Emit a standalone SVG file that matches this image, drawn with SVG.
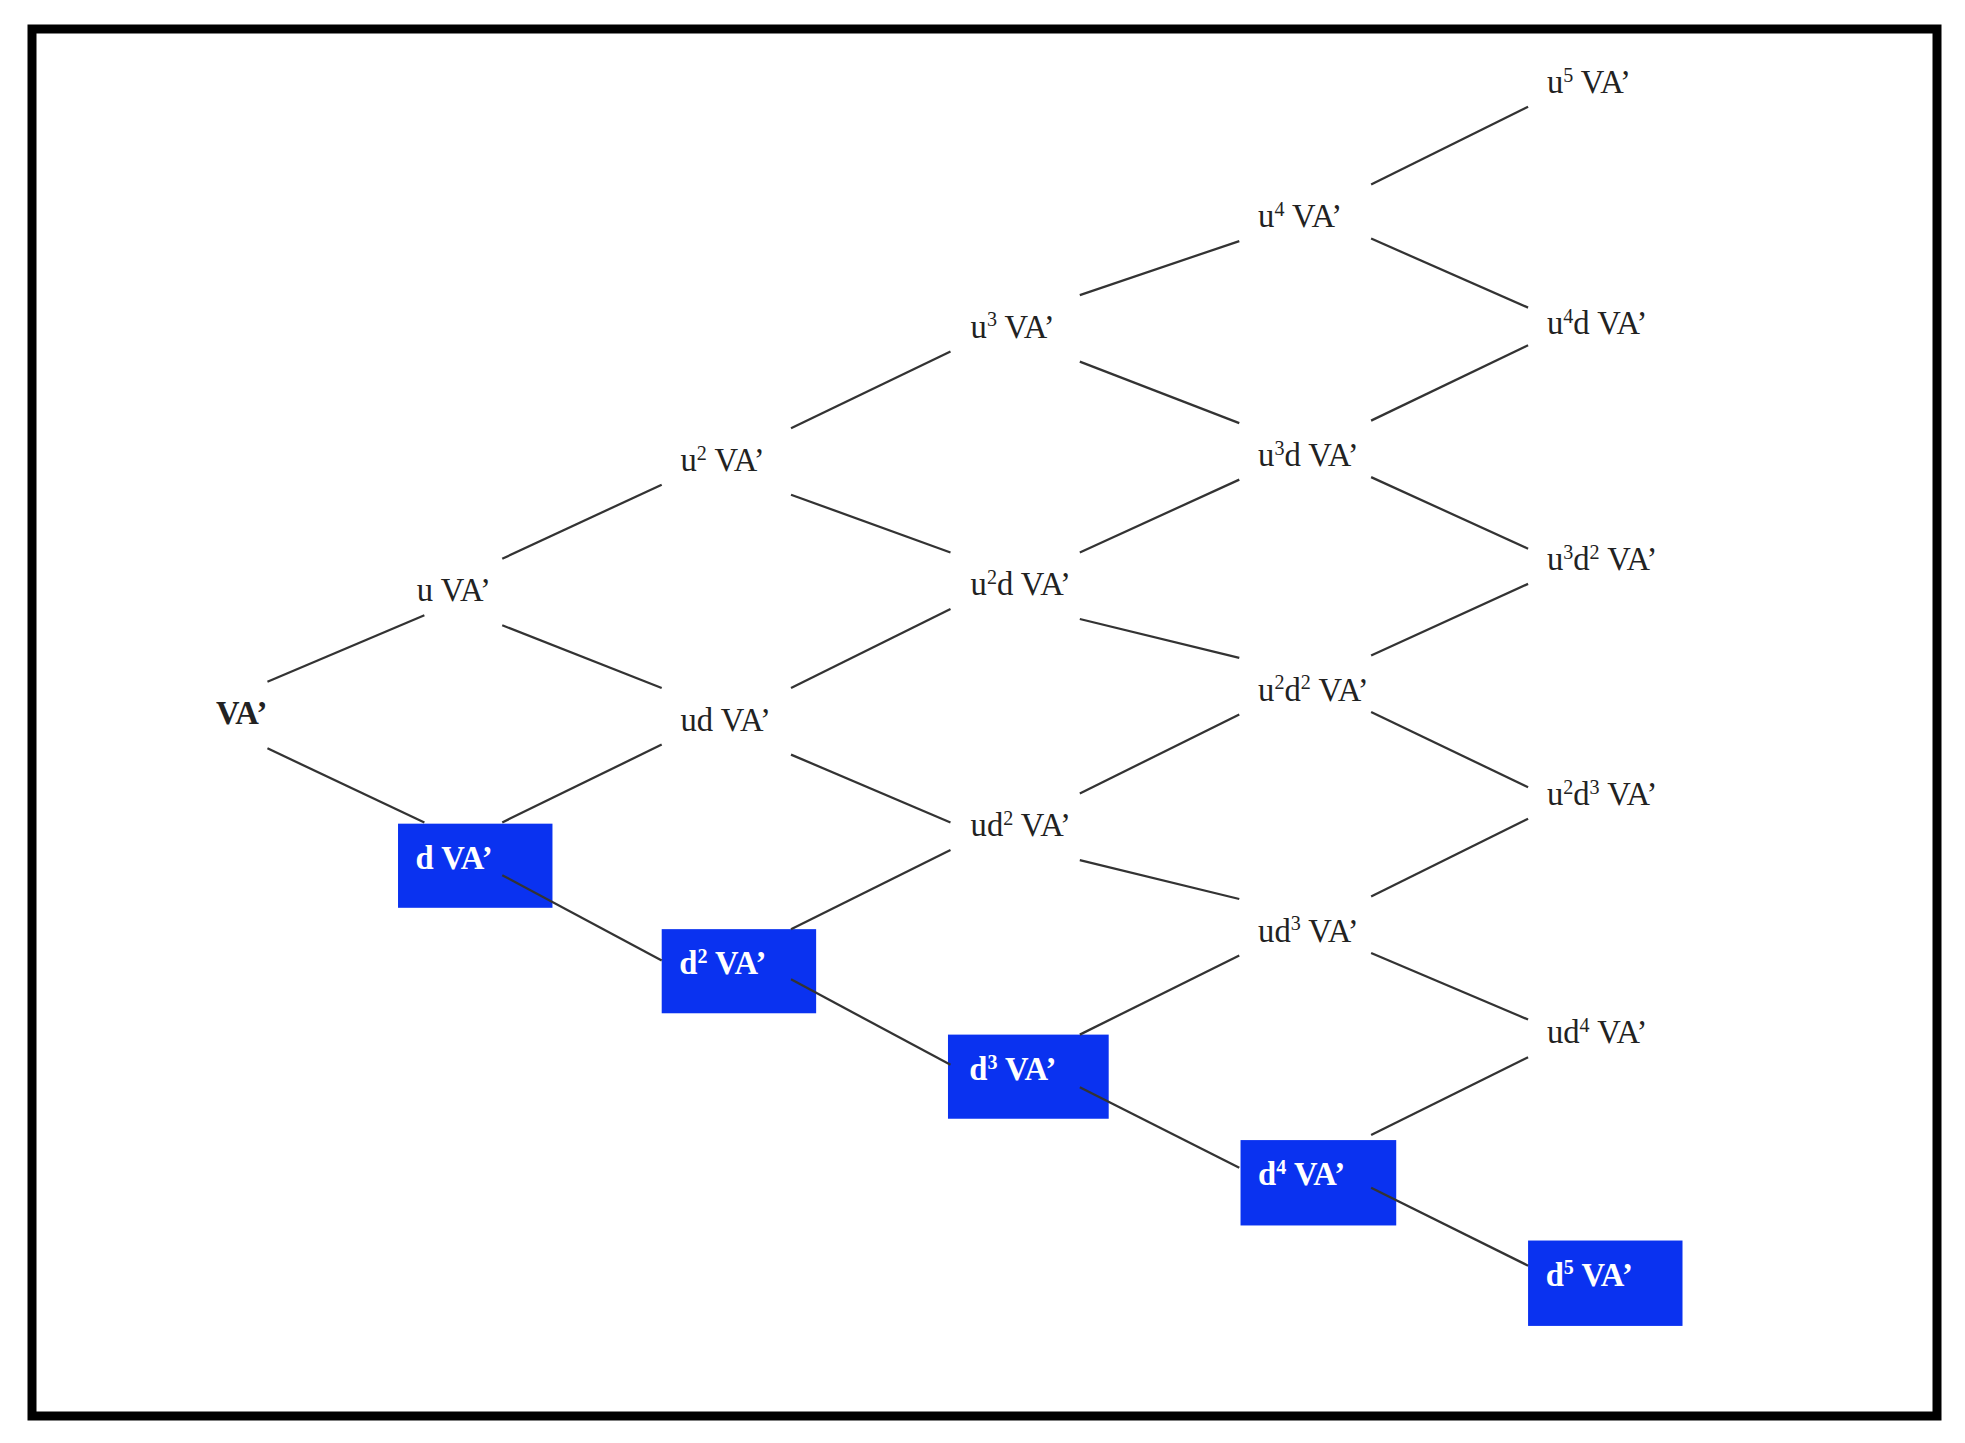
<svg xmlns="http://www.w3.org/2000/svg" width="1965" height="1443" viewBox="0 0 1965 1443">
<style>
text{font-family:"Liberation Serif","Times New Roman",serif;font-size:26px;fill:#222}
.b text{fill:#fff;font-weight:bold}
.box{fill:#0a32f0}
.s{font-size:16px}
#edges line{stroke:#333;stroke-width:1.8}
</style>
<rect x="0" y="0" width="1965" height="1443" fill="#fff"/>
<rect x="32" y="29" width="1905" height="1387" fill="none" stroke="#000" stroke-width="9"/>
<g transform="scale(1.2556)">
<g id="boxes">
<rect class="box" x="317" y="656" width="123" height="67"/>
<rect class="box" x="527" y="740" width="123" height="67"/>
<rect class="box" x="755" y="824" width="128" height="67"/>
<rect class="box" x="988" y="908" width="124" height="68"/>
<rect class="box" x="1217" y="988" width="123" height="68"/>
</g>
<g id="edges">
<line x1="213" y1="543" x2="338" y2="490"/>
<line x1="213" y1="596" x2="338" y2="655"/>
<line x1="400" y1="445" x2="527" y2="386"/>
<line x1="400" y1="498" x2="527" y2="548"/>
<line x1="400" y1="655" x2="527" y2="593"/>
<line x1="400" y1="697" x2="527" y2="765"/>
<line x1="630" y1="341" x2="757" y2="280"/>
<line x1="630" y1="394" x2="757" y2="440"/>
<line x1="630" y1="548" x2="757" y2="485"/>
<line x1="630" y1="601" x2="757" y2="655"/>
<line x1="630" y1="740" x2="757" y2="677"/>
<line x1="630" y1="780" x2="757" y2="848"/>
<line x1="860" y1="235" x2="987" y2="192"/>
<line x1="860" y1="288" x2="987" y2="337"/>
<line x1="860" y1="440" x2="987" y2="382"/>
<line x1="860" y1="493" x2="987" y2="524"/>
<line x1="860" y1="632" x2="987" y2="569"/>
<line x1="860" y1="685" x2="987" y2="716"/>
<line x1="860" y1="824" x2="987" y2="761"/>
<line x1="860" y1="866" x2="987" y2="930"/>
<line x1="1092" y1="147" x2="1217" y2="85"/>
<line x1="1092" y1="190" x2="1217" y2="245"/>
<line x1="1092" y1="335" x2="1217" y2="275"/>
<line x1="1092" y1="380" x2="1217" y2="437"/>
<line x1="1092" y1="522" x2="1217" y2="465"/>
<line x1="1092" y1="567" x2="1217" y2="627"/>
<line x1="1092" y1="714" x2="1217" y2="652"/>
<line x1="1092" y1="759" x2="1217" y2="812"/>
<line x1="1092" y1="904" x2="1217" y2="842"/>
<line x1="1092" y1="946" x2="1217" y2="1008"/>
</g>
<g id="n_VA"><text x="172" y="577" font-weight="bold">VA’</text></g>
<g id="n_u"><text x="332" y="479">u VA’</text></g>
<g id="n_u2"><text x="542" y="375">u<tspan class="s" dy="-9">2</tspan><tspan dy="9"> VA’</tspan></text></g>
<g id="n_ud"><text x="542" y="582">ud VA’</text></g>
<g id="n_u3"><text x="773" y="269">u<tspan class="s" dy="-9">3</tspan><tspan dy="9"> VA’</tspan></text></g>
<g id="n_u2d"><text x="773" y="474">u<tspan class="s" dy="-9">2</tspan><tspan dy="9">d VA’</tspan></text></g>
<g id="n_ud2"><text x="773" y="666">ud<tspan class="s" dy="-9">2</tspan><tspan dy="9"> VA’</tspan></text></g>
<g id="n_u4"><text x="1002" y="181">u<tspan class="s" dy="-9">4</tspan><tspan dy="9"> VA’</tspan></text></g>
<g id="n_u3d"><text x="1002" y="371">u<tspan class="s" dy="-9">3</tspan><tspan dy="9">d VA’</tspan></text></g>
<g id="n_u2d2"><text x="1002" y="558">u<tspan class="s" dy="-9">2</tspan><tspan dy="9">d</tspan><tspan class="s" dy="-9">2</tspan><tspan dy="9"> VA’</tspan></text></g>
<g id="n_ud3"><text x="1002" y="750">ud<tspan class="s" dy="-9">3</tspan><tspan dy="9"> VA’</tspan></text></g>
<g id="n_u5"><text x="1232" y="74">u<tspan class="s" dy="-9">5</tspan><tspan dy="9"> VA’</tspan></text></g>
<g id="n_u4d"><text x="1232" y="266">u<tspan class="s" dy="-9">4</tspan><tspan dy="9">d VA’</tspan></text></g>
<g id="n_u3d2"><text x="1232" y="454">u<tspan class="s" dy="-9">3</tspan><tspan dy="9">d</tspan><tspan class="s" dy="-9">2</tspan><tspan dy="9"> VA’</tspan></text></g>
<g id="n_u2d3"><text x="1232" y="641">u<tspan class="s" dy="-9">2</tspan><tspan dy="9">d</tspan><tspan class="s" dy="-9">3</tspan><tspan dy="9"> VA’</tspan></text></g>
<g id="n_ud4"><text x="1232" y="831">ud<tspan class="s" dy="-9">4</tspan><tspan dy="9"> VA’</tspan></text></g>
<g class="b">
<g id="n_d"><text x="331" y="692">d VA’</text></g>
<g id="n_d2"><text x="541" y="776">d<tspan class="s" dy="-9">2</tspan><tspan dy="9"> VA’</tspan></text></g>
<g id="n_d3"><text x="772" y="860">d<tspan class="s" dy="-9">3</tspan><tspan dy="9"> VA’</tspan></text></g>
<g id="n_d4"><text x="1002" y="944">d<tspan class="s" dy="-9">4</tspan><tspan dy="9"> VA’</tspan></text></g>
<g id="n_d5"><text x="1231" y="1024">d<tspan class="s" dy="-9">5</tspan><tspan dy="9"> VA’</tspan></text></g>
</g>
</g>
</svg>
